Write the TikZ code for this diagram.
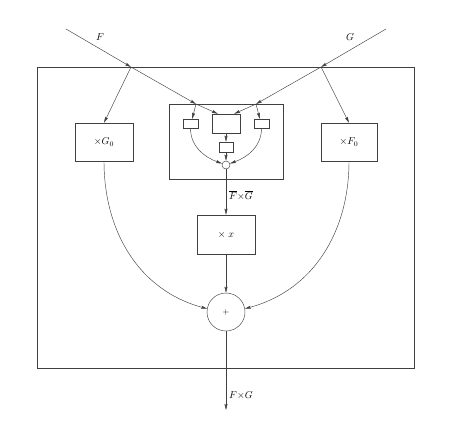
\documentclass[tikz,border=0pt]{standalone}
\usetikzlibrary{arrows.meta}

\begin{document}
\begin{tikzpicture}[x=1pt, y=1pt,
		line width=0.45pt, draw=black!75,
		arr/.style={-{Stealth[length=6pt,width=3pt,inset=1pt]}},
		blk/.style={draw, inner sep=0pt, minimum width=#1},
		adder/.style={draw, circle, inner sep=0pt, minimum size=#1}]
			%%%%% START %%%%%
			
			\useasboundingbox (0, 0) rectangle (454, 424);
			
			% outer and inner frame
			\node[blk=377, minimum height=301] (outer) at (225.5, 206.5) {};
			\node[blk=114, minimum height=75] (inner) at (226, 282.5) {};
			
			% inputs
			\coordinate (Fin) at (66, 395);
			\coordinate (Gin) at (386, 395);
			\coordinate (Fj) at (131, 357);
			\coordinate (Gj) at (321, 357);
			\coordinate (Fk) at (196, 320);
			\coordinate (Gk) at (256, 320);
			\coordinate (out) at (226, 14);
			
			\node (Flab) at (100, 387) {$F$};
			\node (Glab) at (350, 387) {$G$};
			
			% blocks
			\node[blk=58, minimum height=38] (g0) at (104, 282) {$\times G_0$};
			\node[blk=56, minimum height=38] (f0) at (349, 282) {$\times F_0$};
			\node[blk=58, minimum height=39] (mx) at (226, 189.5) {$\times\;x$};
			\node[adder=38] (sum) at (226, 112) {\footnotesize$+$};
			
			% small blocks inside the inner frame
			\node[blk=15, minimum height=9] (sl) at (190.5, 300.5) {};
			\node[blk=15, minimum height=9] (sr) at (261.5, 300.5) {};
			\node[blk=28, minimum height=19] (sc) at (226, 300.5) {};
			\node[blk=14, minimum height=10] (sm) at (226, 277) {};
			\node[adder=8] (sum1) at (226, 259) {};
			
			% F and G paths
			\draw[arr] (Fin) -- (Fj);
			\draw[arr] (Gin) -- (Gj);
			\draw[arr] (Fj) -- (Fk);
			\draw[arr] (Gj) -- (Gk);
			\draw[arr] (Fj) -- (g0.north);
			\draw[arr] (Gj) -- (f0.north);
			\draw[arr] (Fk) -- (sl.70);
			\draw[arr] (Fk) -- (sc.130);
			\draw[arr] (Gk) -- (sr.110);
			\draw[arr] (Gk) -- (sc.50);
			
			% inner sums
			\draw[arr] (sc.south) -- (sm.north);
			\draw[arr] (sm.south) -- (sum1.north);
			\draw[arr] (sl.south) to[out=-90, in=160] (sum1.160);
			\draw[arr] (sr.south) to[out=-90, in=20] (sum1.20);
			
			% products to the adder
			\draw[arr] (sum1.south) -- node[right, pos=0.57, inner sep=3pt] {$\overline{F}{\times}\overline{G}$} (mx.north);
			\draw[arr] (mx.south) -- (sum.north);
			\draw[arr] (g0.south) to[out=-90, in=165] (sum.170);
			\draw[arr] (f0.south) to[out=-90, in=15] (sum.10);
			\draw[arr] (sum.south) -- node[right, pos=0.82, inner sep=3pt] {$F{\times}G$} (out);
			
			%%%%% END %%%%%
		\end{tikzpicture}
\end{document}
